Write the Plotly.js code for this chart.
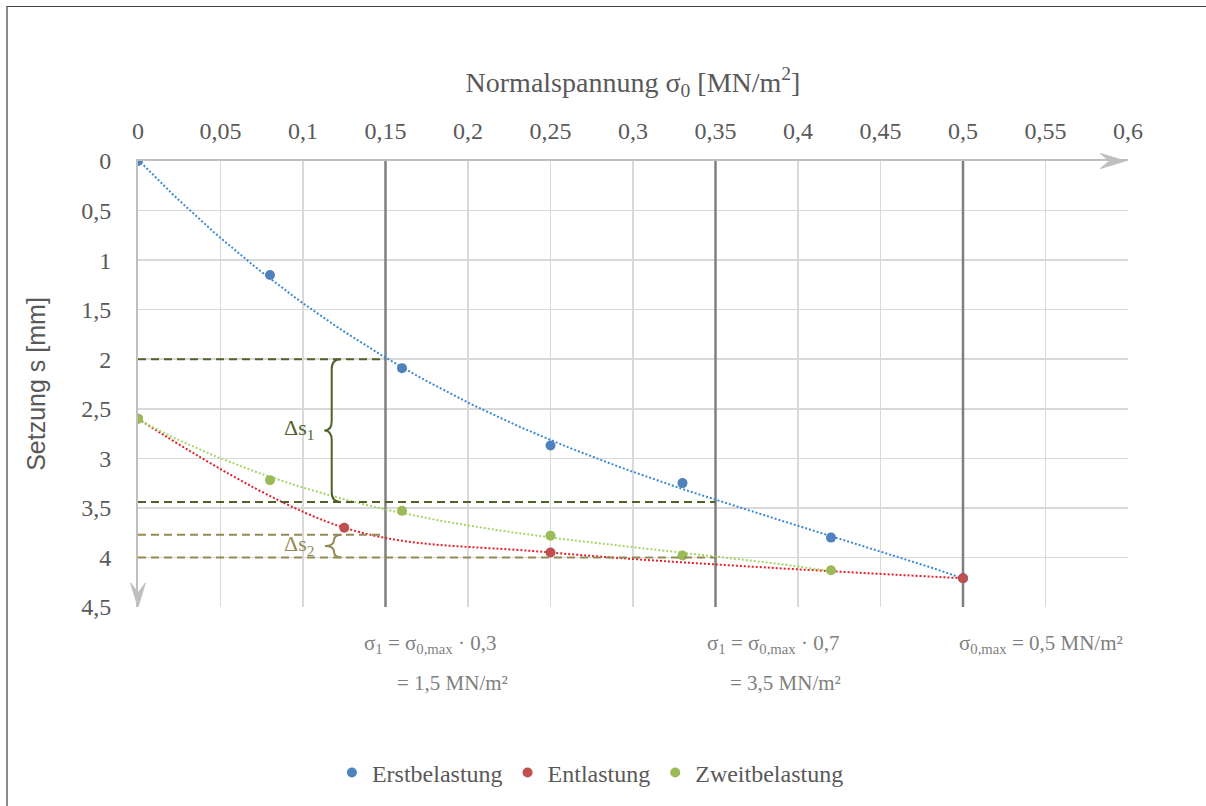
<!DOCTYPE html>
<html><head><meta charset="utf-8">
<script src="https://cdn.plot.ly/plotly-3.0.1.min.js"></script>
<style>
html,body{margin:0;padding:0;background:#fff;overflow:hidden;}
#chart{position:absolute;left:0;top:0;width:1206px;height:806px;}
#frame{position:absolute;left:6px;top:6px;width:1300px;height:900px;border-top:1px solid #404040;border-left:2px solid #8a8a8a;pointer-events:none;}
</style></head><body>
<div id="chart"></div><div id="frame"></div>
<script>
// ---- data ----
const seriesNames = ['Erstbelastung', 'Entlastung', 'Zweitbelastung'];
const erstX = [0, 0.08, 0.16, 0.25, 0.33, 0.42, 0.5];
const erstS = [0, 1.15, 2.09, 2.87, 3.25, 3.80, 4.21];
const entX = [0.5, 0.25, 0.125, 0];
const entS = [4.21, 3.95, 3.70, 2.60];
const zweitX = [0, 0.08, 0.16, 0.25, 0.33, 0.42];
const zweitS = [2.60, 3.22, 3.53, 3.78, 3.98, 4.13];
const sigmaLevels = [0.15, 0.35, 0.5];
const ds1Levels = [2.0, 3.44];   // Δs1 range, reference lines
const ds2Levels = [3.77, 4.0];   // Δs2 range, reference lines
const xTickVals = [0, 0.05, 0.1, 0.15, 0.2, 0.25, 0.3, 0.35, 0.4, 0.45, 0.5, 0.55, 0.6];
const xTickText = ['0', '0,05', '0,1', '0,15', '0,2', '0,25', '0,3', '0,35', '0,4', '0,45', '0,5', '0,55', '0,6'];
const yTickVals = [0, 0.5, 1, 1.5, 2, 2.5, 3, 3.5, 4, 4.5];
const yTickText = ['0', '0,5', '1', '1,5', '2', '2,5', '3', '3,5', '4', '4,5'];

// ---- polynomial trendline (least squares, like a spreadsheet trendline) ----
function polyfit(xs, ys, order) {
  const n = order + 1;
  const A = Array.from({length: n}, () => new Array(n + 1).fill(0));
  for (let k = 0; k < xs.length; k++) {
    for (let i = 0; i < n; i++) {
      for (let j = 0; j < n; j++) A[i][j] += Math.pow(xs[k], i + j);
      A[i][n] += ys[k] * Math.pow(xs[k], i);
    }
  }
  for (let i = 0; i < n; i++) {
    let p = i;
    for (let r = i + 1; r < n; r++) if (Math.abs(A[r][i]) > Math.abs(A[p][i])) p = r;
    [A[i], A[p]] = [A[p], A[i]];
    for (let r = 0; r < n; r++) {
      if (r === i) continue;
      const f = A[r][i] / A[i][i];
      for (let c = i; c <= n; c++) A[r][c] -= f * A[i][c];
    }
  }
  return A.map((row, i) => row[n] / row[i]);
}
function trend(xs, ys, order) {
  const c = polyfit(xs, ys, order);
  const lo = Math.min(...xs), hi = Math.max(...xs);
  const tx = [], ty = [];
  for (let i = 0; i <= 120; i++) {
    const x = lo + (hi - lo) * i / 120;
    tx.push(x);
    ty.push(c.reduce((s, ci, p) => s + ci * Math.pow(x, p), 0));
  }
  return {tx, ty};
}

const serif = "'Liberation Serif', 'Times New Roman', serif";
const sans = "'Liberation Sans', Arial, sans-serif";
const colors = ['#4f81bd', '#c0504d', '#9bbb59'];
const trendColors = ['#3a8ad6', '#e3202a', '#a5d465'];
const dotted = {width: 2, dash: '2px,2px'};

const traces = [];
// Erstbelastung trend (polynomial)
const tErst = trend(erstX, erstS, 3);
traces.push({x: tErst.tx, y: tErst.ty, type: 'scatter', mode: 'lines', showlegend: false, hoverinfo: 'skip',
  line: Object.assign({color: trendColors[0]}, dotted)});
// Entlastung trend (smoothed)
const entOrder = entX.map((v, i) => i).sort((a, b) => entX[a] - entX[b]);
traces.push({x: entOrder.map(i => entX[i]), y: entOrder.map(i => entS[i]), type: 'scatter', mode: 'lines',
  showlegend: false, hoverinfo: 'skip',
  line: Object.assign({color: trendColors[1], shape: 'spline', smoothing: 1}, dotted)});
// Zweitbelastung trend (polynomial)
const tZw = trend(zweitX, zweitS, 3);
traces.push({x: tZw.tx, y: tZw.ty, type: 'scatter', mode: 'lines', showlegend: false, hoverinfo: 'skip',
  line: Object.assign({color: trendColors[2]}, dotted)});

[[erstX, erstS], [entX, entS], [zweitX, zweitS]].forEach((d, i) => {
  traces.push({x: d[0], y: d[1], type: 'scatter', mode: 'markers', name: seriesNames[i],
    marker: {color: colors[i], size: 10}});
});

const shapes = [];
sigmaLevels.forEach(v => shapes.push({type: 'line', xref: 'x', yref: 'y', x0: v, x1: v, y0: 0, y1: 4.5,
  layer: 'between', line: {color: '#7f7f7f', width: 2.5}}));
const olive = '#4f6228', ochre = '#948a54';
const dash = '8px,5px';
shapes.push({type: 'line', xref: 'x', yref: 'y', x0: 0, x1: sigmaLevels[0], y0: ds1Levels[0], y1: ds1Levels[0], line: {color: olive, width: 2, dash: dash}});
shapes.push({type: 'line', xref: 'x', yref: 'y', x0: 0, x1: sigmaLevels[1], y0: ds1Levels[1], y1: ds1Levels[1], line: {color: olive, width: 2, dash: dash}});
shapes.push({type: 'line', xref: 'x', yref: 'y', x0: 0, x1: sigmaLevels[0], y0: ds2Levels[0], y1: ds2Levels[0], line: {color: ochre, width: 2, dash: dash}});
shapes.push({type: 'line', xref: 'x', yref: 'y', x0: 0, x1: sigmaLevels[1], y0: ds2Levels[1], y1: ds2Levels[1], line: {color: ochre, width: 2, dash: dash}});

function brace(xs, xt, xe, y0, y1, r) {
  const ym = (y0 + y1) / 2;
  return `M ${xe},${y0} Q ${xs},${y0} ${xs},${y0 + r} L ${xs},${ym - r} Q ${xs},${ym} ${xt},${ym} ` +
         `Q ${xs},${ym} ${xs},${ym + r} L ${xs},${y1 - r} Q ${xs},${y1} ${xe},${y1}`;
}
shapes.push({type: 'path', xref: 'x', yref: 'y', path: brace(0.1174, 0.1129, 0.1228, ds1Levels[0], ds1Levels[1], 0.1), line: {color: olive, width: 2}});
shapes.push({type: 'path', xref: 'x', yref: 'y', path: brace(0.1188, 0.1133, 0.1235, ds2Levels[0], ds2Levels[1], 0.06), line: {color: ochre, width: 2}});

// axis arrow heads (paper coordinates so they are not clipped)
shapes.push({type: 'path', xref: 'paper', yref: 'paper', layer: 'above',
  path: 'M 0,0 L -0.0075,0.054 L 0,0.032 L 0.0075,0.054 Z', fillcolor: '#bfbfbf', line: {color: '#bfbfbf', width: 1}});
shapes.push({type: 'path', xref: 'paper', yref: 'paper', layer: 'above',
  path: 'M 0.997,1 L 0.972,1.017 L 0.981,1 L 0.972,0.983 Z', fillcolor: '#bfbfbf', line: {color: '#bfbfbf', width: 1}});

const gray = '#7f7f7f';
const annotations = [
  {xref: 'x', yref: 'y', x: 0.0976, y: 2.708, text: 'Δs<sub>1</sub>', showarrow: false, font: {family: serif, size: 22, color: olive}},
  {xref: 'x', yref: 'y', x: 0.0976, y: 3.876, text: 'Δs<sub>2</sub>', showarrow: false, font: {family: serif, size: 22, color: ochre}},
  {xref: 'x', yref: 'paper', x: 0.1358, y: -0.083, xanchor: 'left', yanchor: 'middle', showarrow: false,
   text: 'σ<sub>1</sub> = σ<sub>0,max</sub> · 0,3', font: {family: serif, size: 21, color: gray}},
  {xref: 'x', yref: 'paper', x: 0.1558, y: -0.170, xanchor: 'left', yanchor: 'middle', showarrow: false,
   text: '= 1,5 MN/m²', font: {family: serif, size: 21, color: gray}},
  {xref: 'x', yref: 'paper', x: 0.3436, y: -0.083, xanchor: 'left', yanchor: 'middle', showarrow: false,
   text: 'σ<sub>1</sub> = σ<sub>0,max</sub> · 0,7', font: {family: serif, size: 21, color: gray}},
  {xref: 'x', yref: 'paper', x: 0.3576, y: -0.170, xanchor: 'left', yanchor: 'middle', showarrow: false,
   text: '= 3,5 MN/m²', font: {family: serif, size: 21, color: gray}},
  {xref: 'x', yref: 'paper', x: 0.4964, y: -0.083, xanchor: 'left', yanchor: 'middle', showarrow: false,
   text: 'σ<sub>0,max</sub> = 0,5 MN/m²', font: {family: serif, size: 21, color: gray}}
];

const layout = {
  width: 1206, height: 806,
  margin: {l: 138, r: 78, t: 161, b: 198},
  paper_bgcolor: '#ffffff', plot_bgcolor: '#ffffff',
  separators: ',.',
  showlegend: true,
  legend: {orientation: 'h', x: 0.457, xanchor: 'center', y: -0.369, yanchor: 'middle',
    font: {family: serif, size: 24, color: '#595959'}},
  xaxis: {side: 'top', range: [0, 0.6], tickvals: xTickVals, ticktext: xTickText,
    showgrid: true, gridcolor: '#d9d9d9', gridwidth: 1.5, zeroline: false,
    showline: true, linecolor: '#bfbfbf', linewidth: 2,
    ticks: 'outside', ticklen: 10, tickcolor: 'rgba(0,0,0,0)',
    tickfont: {family: serif, size: 24, color: '#595959'},
    title: {text: 'Normalspannung σ<sub>0</sub> [MN/m<sup>2</sup>]', standoff: 18,
      font: {family: serif, size: 28, color: '#595959'}}},
  yaxis: {range: [4.5, 0], tickvals: yTickVals, ticktext: yTickText,
    showgrid: true, gridcolor: '#d9d9d9', gridwidth: 1.5, zeroline: false,
    showline: true, linecolor: '#bfbfbf', linewidth: 2,
    ticks: 'outside', ticklen: 20, tickcolor: 'rgba(0,0,0,0)',
    tickfont: {family: serif, size: 24, color: '#595959'},
    title: {text: 'Setzung s [mm]', standoff: 28, font: {family: sans, size: 25, color: '#595959'}}},
  shapes: shapes,
  annotations: annotations,
  hovermode: false
};

Plotly.newPlot('chart', traces, layout, {displayModeBar: false, staticPlot: true});
</script>
</body></html>
